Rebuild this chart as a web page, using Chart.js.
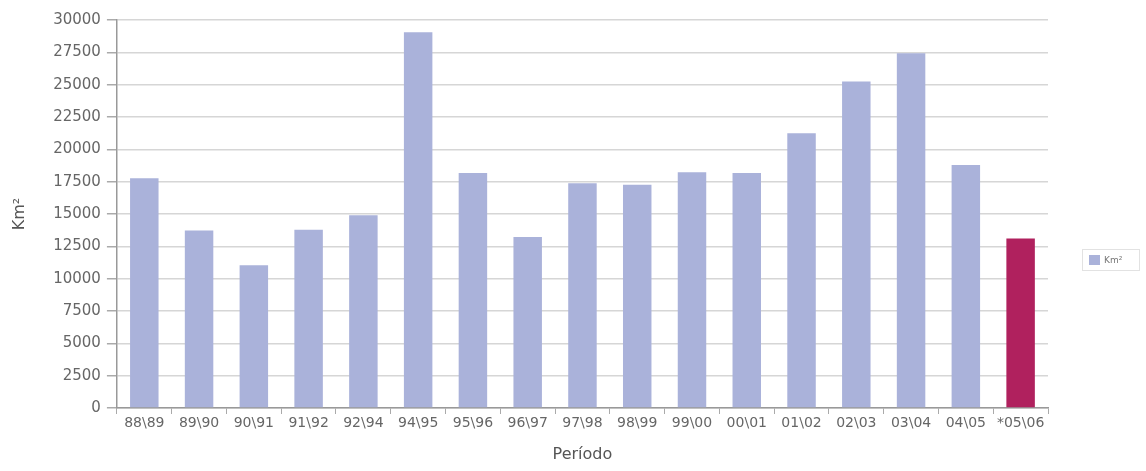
<!DOCTYPE html>
<html>
<head>
<meta charset="utf-8">
<script src="https://cdn.jsdelivr.net/npm/chart.js@4.4.1/dist/chart.umd.min.js"></script>
<style>
  body { margin: 0; background: #fff; }
  #wrap { position: relative; width: 1146px; height: 471px; }
  #legend {
    position: absolute; left: 1082px; top: 249px; width: 58px; height: 22px;
    border: 1px solid #e2e2e2; font-family: "DejaVu Sans", sans-serif; font-size: 9px;
    color: #777; display: flex; align-items: center; box-sizing: border-box; padding-left: 6px;
  }
  #legend span.sw { display: inline-block; width: 11px; height: 10px; background: #aab2da; margin-right: 4px; }
</style>
</head>
<body>
<div id="wrap">
  <canvas id="myChart" width="1146" height="471"></canvas>
  <div id="legend"><span class="sw"></span>Km²</div>
</div>
<script>
const ctx = document.getElementById("myChart").getContext("2d");

// Períodos (eixo x)
const periodos = [
  "88\\89", "89\\90", "90\\91", "91\\92", "92\\94", "94\\95", "95\\96", "96\\97", "97\\98",
  "98\\99", "99\\00", "00\\01", "01\\02", "02\\03", "03\\04", "04\\05", "*05\\06",
];

// Área em km²
const areaKm2 = [
  17770, 13730, 11030, 13786, 14896, 29059, 18161, 13227, 17383,
  17259, 18226, 18165, 21238, 25247, 27429, 18793, 13100,
];

const corBarra = "#aab2da";
const corEstimativa = "#b0215e";
const cores = periodos.map((p) => (p.startsWith("*") ? corEstimativa : corBarra));

const myChart = new Chart(ctx, {
  type: "bar",
  data: {
    labels: periodos,
    datasets: [
      {
        label: "Km²",
        data: areaKm2,
        backgroundColor: cores,
        borderWidth: 0,
        barPercentage: 0.52,
        categoryPercentage: 1.0,
      },
    ],
  },
  options: {
    responsive: false,
    animation: { duration: 0 },
    layout: { padding: { top: 20, right: 98, left: 6, bottom: 5 } },
    scales: {
      y: {
        min: 0,
        max: 30000,
        ticks: {
          stepSize: 2500,
          color: "#666",
          padding: 6,
          callback: (v) => String(v),
          font: { family: "DejaVu Sans", size: 15 },
        },
        grid: {
          color: "#d6d6d6",
          lineWidth: 1.5,
          tickLength: 10,
          tickColor: "#aaa",
        },
        border: { color: "#999", width: 1.5 },
        title: {
          display: true,
          text: "Km²",
          color: "#555",
          font: { family: "DejaVu Sans", size: 16 },
          padding: { bottom: 18 },
        },
      },
      x: {
        ticks: {
          color: "#666",
          maxRotation: 0,
          autoSkip: false,
          padding: 1,
          font: { family: "DejaVu Sans", size: 14 },
        },
        grid: {
          offset: true,
          drawOnChartArea: false,
          tickLength: 6,
          tickColor: "#aaa",
        },
        border: { color: "#999", width: 1.5 },
        title: {
          display: true,
          text: "Período",
          color: "#555",
          font: { family: "DejaVu Sans", size: 16 },
          padding: { top: 12, bottom: 2 },
        },
      },
    },
    plugins: {
      legend: { display: false },
      tooltip: { enabled: false },
    },
  },
});
</script>
</body>
</html>
